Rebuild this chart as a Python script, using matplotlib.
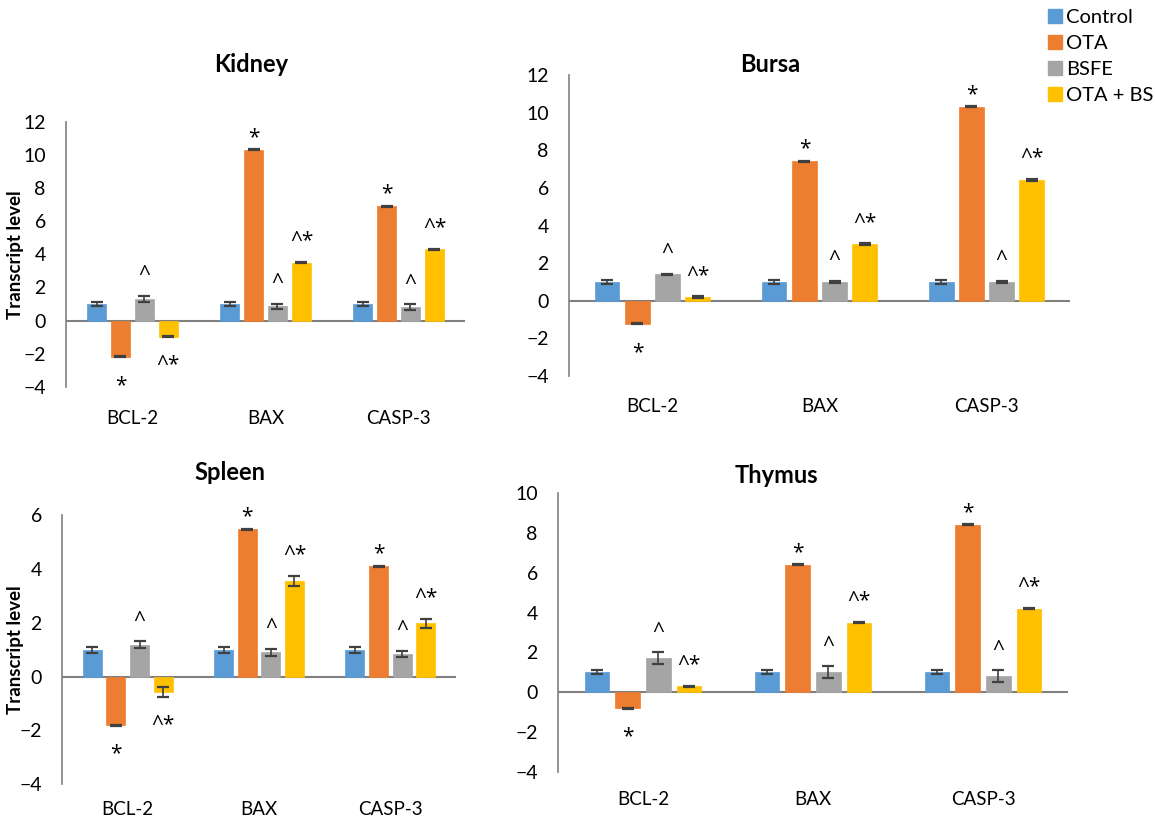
import matplotlib.pyplot as plt
from matplotlib.patches import Patch

plt.rcParams['font.family'] = ['Lato', 'DejaVu Sans']

genes = ['BCL-2', 'BAX', 'CASP-3']
groups = ['Control', 'OTA', 'BSFE', 'OTA + BS']
colors = ['#5B9BD5', '#ED7D31', '#A5A5A5', '#FFC000']
marks = ['', '*', '^', '^*']

# transcript levels per tissue: one row per group, one value per gene
kidney = [[1.0, 1.0, 1.0], [-2.2, 10.3, 6.9], [1.3, 0.85, 0.8], [-0.97, 3.5, 4.3]]
kidney_err = [[0.12, 0.12, 0.12], [0.03, 0.03, 0.03], [0.17, 0.17, 0.17], [0.03, 0.03, 0.03]]

bursa = [[1.0, 1.0, 1.0], [-1.22, 7.4, 10.3], [1.4, 1.02, 1.02], [0.18, 3.0, 6.42]]
bursa_err = [[0.1, 0.1, 0.1], [0.03, 0.03, 0.03], [0.05, 0.05, 0.05], [0.05, 0.05, 0.05]]

spleen = [[1.0, 1.0, 1.0], [-1.8, 5.48, 4.1], [1.19, 0.9, 0.85], [-0.56, 3.56, 1.98]]
spleen_err = [[0.12, 0.12, 0.12], [0.02, 0.02, 0.02], [0.12, 0.12, 0.12], [0.19, 0.18, 0.16]]

thymus = [[1.0, 1.0, 1.0], [-0.8, 6.4, 8.4], [1.7, 1.0, 0.8], [0.3, 3.5, 4.2]]
thymus_err = [[0.1, 0.1, 0.1], [0.02, 0.02, 0.02], [0.3, 0.3, 0.3], [0.02, 0.02, 0.02]]

W, H = 1155, 823

panels = [
    # title, values, errors, (ymin, ymax), axes rect, title pos (px), ylabel, label pad
    ('Kidney', kidney, kidney_err, (-4, 12), [0.0571, 0.530, 0.3455, 0.322], (251, 65), True, 17),
    ('Bursa', bursa, bursa_err, (-4, 12), [0.4926, 0.543, 0.4338, 0.366], (770, 64), False, 16),
    ('Spleen', spleen, spleen_err, (-4, 6), [0.0537, 0.047, 0.3411, 0.327], (230, 473), True, 12),
    ('Thymus', thymus, thymus_err, (-4, 10), [0.4831, 0.062, 0.4416, 0.339], (776, 475), False, 14),
]

fig = plt.figure(figsize=(W / 100, H / 100), dpi=100)

width = 0.145
step = 0.18
axis_grey = '#808080'

for title, vals, errs, ylim, rect, tpos, show_ylabel, xpad in panels:
    ax = fig.add_axes(rect)
    for i in range(len(groups)):
        xs = [g + (i - 1.5) * step for g in range(len(genes))]
        ax.bar(xs, vals[i], width, color=colors[i], edgecolor=colors[i],
               linewidth=0.5, zorder=2)
        ax.errorbar(xs, vals[i], yerr=errs[i], fmt='none', ecolor='#404040',
                    elinewidth=1.2, capsize=4, capthick=1.6, zorder=3)
        if not marks[i]:
            continue
        lift = 7 if '^' in marks[i] else 1
        for x, v, e in zip(xs, vals[i], errs[i]):
            if v >= 0:
                ax.annotate(marks[i], (x, v + e), xytext=(0, lift),
                            textcoords='offset points', ha='center',
                            va='bottom', fontsize=15, family='Open Sans')
            else:
                ax.annotate(marks[i], (x, v - e), xytext=(0, -13),
                            textcoords='offset points', ha='center',
                            va='top', fontsize=15, family='Open Sans')

    ax.axhline(0, color=axis_grey, linewidth=1.5, zorder=1)
    ax.set_xlim(-0.5, len(genes) - 0.5)
    ax.set_ylim(*ylim)
    ax.set_yticks(range(ylim[0], ylim[1] + 1, 2))
    ax.set_xticks(range(len(genes)))
    ax.set_xticklabels(genes, fontsize=13.5)
    ax.tick_params(axis='x', length=0, pad=xpad)
    ax.tick_params(axis='y', length=0, pad=14.5, labelsize=14)
    for side in ['top', 'right', 'bottom']:
        ax.spines[side].set_visible(False)
    ax.spines['left'].set_color(axis_grey)
    ax.spines['left'].set_linewidth(1.2)

    fig.text(tpos[0] / W, 1 - tpos[1] / H, title, fontsize=17,
             fontweight='bold', ha='center', va='center')
    if show_ylabel:
        yc = rect[1] + rect[3] / 2
        fig.text(15 / W, yc, 'Transcript level', fontsize=13.5,
                 fontweight='bold', rotation=90, ha='center', va='center')

handles = [Patch(facecolor=c, edgecolor=c) for c in colors]
fig.legend(handles, groups, loc='upper left', bbox_to_anchor=(0.897, 1.004),
           frameon=False, fontsize=14.5, handlelength=0.7, handleheight=0.7,
           handletextpad=0.2, labelspacing=0.45, borderaxespad=0.2)

fig.savefig('out.png', dpi=100)
